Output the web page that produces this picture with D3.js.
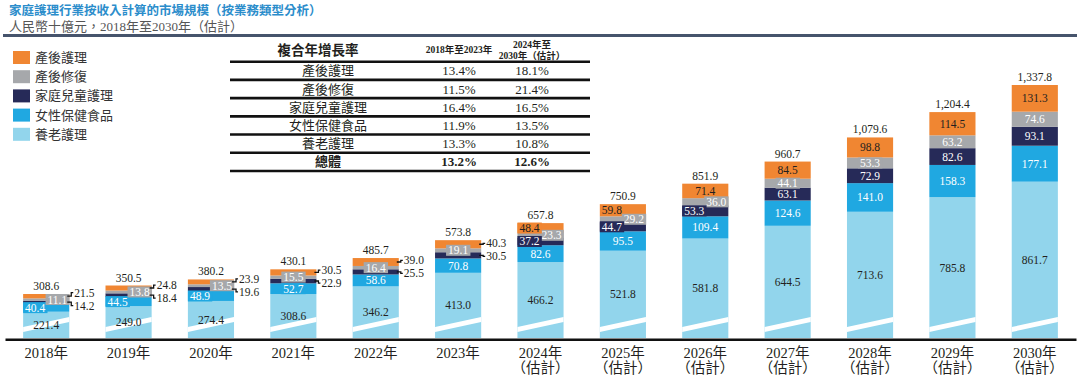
<!DOCTYPE html>
<html>
<head>
<meta charset="utf-8">
<script src="https://cdn.jsdelivr.net/npm/d3@7"></script>
<style>
  body { margin: 0; background: #fff; }
  svg { display: block; font-family: "Liberation Serif", "Noto Sans CJK TC", serif; }
</style>
</head>
<body>
<svg id="chart" width="1080" height="378"></svg>
<script>
// values (RMB bn)
const years = ['2018年', '2019年', '2020年', '2021年', '2022年', '2023年', '2024年',
  '2025年', '2026年', '2027年', '2028年', '2029年', '2030年'];
const estimated = [false, false, false, false, false, false, true, true, true, true, true, true, true];
const elderlyCare = [221.4, 249.0, 274.4, 308.6, 346.2, 413.0, 466.2, 521.8, 581.8, 644.5, 713.6, 785.8, 861.7];
const womenHealthFood = [40.4, 44.5, 48.9, 52.7, 58.6, 70.8, 82.6, 95.5, 109.4, 124.6, 141.0, 158.3, 177.1];
const childCare = [14.2, 18.4, 19.6, 22.9, 25.5, 30.5, 37.2, 44.7, 53.3, 63.1, 72.9, 82.6, 93.1];
const postpartumRepair = [11.1, 13.8, 13.5, 15.5, 16.4, 19.1, 23.3, 29.2, 36.0, 44.1, 53.3, 63.2, 74.6];
const postpartumCare = [21.5, 24.8, 23.9, 30.5, 39.0, 40.3, 48.4, 59.8, 71.4, 84.5, 98.8, 114.5, 131.3];
const totals = [308.6, 350.5, 380.2, 430.1, 485.7, 573.8, 657.8, 750.9, 851.9, 960.7, 1079.6, 1204.4, 1337.8];

const seriesKeys = ['elderly', 'women', 'child', 'repair', 'postnatal'];
const seriesNames = {
  elderly: '養老護理', women: '女性保健食品', child: '家庭兒童護理',
  repair: '產後修復', postnatal: '產後護理'
};
const colors = {
  postnatal: '#F08632', repair: '#A6A8AB', child: '#262A58',
  women: '#20A8E1', elderly: '#92D5EC'
};
const legendOrder = ['postnatal', 'repair', 'child', 'women', 'elderly'];

const cagrRows = ['產後護理', '產後修復', '家庭兒童護理', '女性保健食品', '養老護理', '總體'];
const cagrHistoric = ['13.4%', '11.5%', '16.4%', '11.9%', '13.3%', '13.2%'];
const cagrForecast = ['18.1%', '21.4%', '16.5%', '13.5%', '10.8%', '12.6%'];

const table = years.map((y, i) => ({
  year: y,
  elderly: elderlyCare[i],
  women: womenHealthFood[i],
  child: childCare[i],
  repair: postpartumRepair[i],
  postnatal: postpartumCare[i],
  total: totals[i]
}));

const textColor = '#231F20';
const baseY = 338;
const svg = d3.select('#chart');

// title
svg.append('text')
  .text('家庭護理行業按收入計算的市場規模（按業務類型分析）')
  .attr('x', 9).attr('y', 15)
  .attr('font-size', 12.5).attr('font-weight', 'bold')
  .attr('fill', '#2B8DCB');
svg.append('text')
  .text('人民幣十億元，2018年至2030年（估計）')
  .attr('x', 9).attr('y', 31)
  .attr('font-size', 13)
  .attr('fill', '#555');
svg.append('rect')
  .attr('x', 3).attr('y', 34).attr('width', 1074).attr('height', 3)
  .attr('fill', '#46546C');

// scales (broken axis: bottom of the chart is cut)
const x = d3.scaleBand()
  .domain(years)
  .range([5, 1076])
  .paddingInner(0.44)
  .paddingOuter(0.22);

const y = d3.scaleLinear()
  .domain([92, 1337.8])
  .range([baseY, 85]);

const stacked = d3.stack().keys(seriesKeys)(table);

const bars = svg.append('g');
stacked.forEach((layer) => {
  bars.append('g')
    .selectAll('rect')
    .data(layer)
    .enter()
    .append('rect')
    .attr('fill', colors[layer.key])
    .attr('x', (d) => x(d.data.year))
    .attr('width', x.bandwidth())
    .attr('y', (d) => y(d[1]))
    .attr('height', (d) => Math.max(0, Math.min(baseY, y(d[0])) - y(d[1])));
});

// axis break marks
bars.append('g')
  .selectAll('polygon')
  .data(table)
  .enter()
  .append('polygon')
  .attr('fill', '#fff')
  .attr('points', (d) => {
    const x0 = x(d.year);
    const x1 = x0 + x.bandwidth();
    return `${x0},${baseY - 11} ${x1},${baseY - 21} ${x1},${baseY - 16} ${x0},${baseY - 6}`;
  });

// x axis
const xAxis = d3.axisBottom(x).tickSize(0).tickSizeOuter(0);
const axisG = svg.append('g')
  .attr('transform', `translate(0, ${baseY + 1.3})`)
  .call(xAxis);
axisG.select('.domain').attr('stroke', '#111').attr('stroke-width', 2.6);
axisG.selectAll('.tick text').each(function (d, i) {
  const t = d3.select(this);
  t.text(null).attr('dy', null).attr('y', null)
    .attr('font-size', 14.5).attr('fill', textColor)
    .attr('font-family', '"Liberation Serif", "Noto Sans CJK TC", serif');
  t.append('tspan').attr('x', 0).attr('y', 19).text(d);
  if (estimated[i]) {
    t.append('tspan').attr('x', 0).attr('y', 34).text('（估計）');
  }
});

// segment labels
const labels = svg.append('g').attr('font-size', 11.5);
const fmt = d3.format('.1f');
const segH = (layer, i) => y(layer[i][0]) - y(layer[i][1]);
const segC = (layer, i) => (y(layer[i][0]) + y(layer[i][1])) / 2;

function boxedLabel(value, cx, cy, align, fill, txtFill, withBox) {
  const g = labels.append('g');
  const t = g.append('text')
    .text(fmt(value))
    .attr('y', cy)
    .attr('dy', '0.35em')
    .attr('fill', txtFill);
  if (align === 'start') t.attr('x', cx + 2).attr('text-anchor', 'start');
  else if (align === 'end') t.attr('x', cx - 2).attr('text-anchor', 'end');
  else t.attr('x', cx).attr('text-anchor', 'middle');
  if (withBox) {
    const bb = t.node().getBBox();
    g.insert('rect', 'text')
      .attr('x', bb.x - 2).attr('width', bb.width + 4)
      .attr('y', cy - 5.5).attr('height', 11)
      .attr('fill', fill);
  }
}

const layerOf = {};
stacked.forEach((l) => { layerOf[l.key] = l; });

table.forEach((d, i) => {
  const bx = x(d.year);
  const bw = x.bandwidth();
  const bc = bx + bw / 2;
  const right = bx + bw;

  // bottom segment, centred between its top and the baseline
  labels.append('text')
    .text(fmt(d.elderly))
    .attr('x', bc)
    .attr('y', (y(layerOf.elderly[i][1]) + baseY) / 2)
    .attr('dy', '0.35em')
    .attr('text-anchor', 'middle')
    .attr('fill', textColor);

  const hOrange = segH(layerOf.postnatal, i);
  const hNavy = segH(layerOf.child, i);
  const hBlue = segH(layerOf.women, i);
  const hGray = segH(layerOf.repair, i);

  const outside = hOrange < 9;
  const blueLeft = hBlue < 10.5;
  const navyLeft = !outside && hNavy < 12;
  const orangeLeft = !outside && hOrange < 13;
  const grayRight = blueLeft || navyLeft;

  // blue
  boxedLabel(d.women, blueLeft ? bx : bc, segC(layerOf.women, i),
    blueLeft ? 'start' : 'middle', colors.women, '#fff', hBlue < 11);

  // gray
  boxedLabel(d.repair, grayRight ? right : bc, segC(layerOf.repair, i),
    grayRight ? 'end' : 'middle', colors.repair, '#fff', hGray < 11);

  if (outside) {
    let oy = segC(layerOf.postnatal, i);
    let ny = segC(layerOf.child, i);
    const gap = 13 - (ny - oy);
    if (gap > 0) { oy -= gap / 2; ny += gap / 2; }
    [[d.postnatal, segC(layerOf.postnatal, i), oy], [d.child, segC(layerOf.child, i), ny]]
      .forEach(([v, sy, ly]) => {
        labels.append('path')
          .attr('d', `M${right - 2},${sy}H${right + 2}V${ly}H${right + 4}`)
          .attr('fill', 'none')
          .attr('stroke', '#111')
          .attr('stroke-width', 1.3);
        labels.append('text')
          .text(fmt(v))
          .attr('x', right + 5)
          .attr('y', ly)
          .attr('dy', '0.35em')
          .attr('fill', textColor);
      });
  } else {
    boxedLabel(d.child, navyLeft ? bx : bc, segC(layerOf.child, i),
      navyLeft ? 'start' : 'middle', colors.child, '#fff', hNavy < 11);
    boxedLabel(d.postnatal, orangeLeft ? bx : bc, segC(layerOf.postnatal, i),
      orangeLeft ? 'start' : 'middle', colors.postnatal, textColor, hOrange < 11);
  }

  // total on top
  labels.append('text')
    .text(d3.format(',.1f')(d.total))
    .attr('x', bc)
    .attr('y', y(d.total) - 8)
    .attr('dy', '0.35em')
    .attr('text-anchor', 'middle')
    .attr('fill', textColor);
});

// legend
const legend = svg.append('g')
  .selectAll('g')
  .data(legendOrder)
  .enter()
  .append('g')
  .attr('transform', (k, i) => `translate(13, ${57.5 + i * 19.2})`);
legend.append('rect')
  .attr('x', 0).attr('y', -6.5)
  .attr('width', 17).attr('height', 13)
  .attr('fill', (k) => colors[k]);
legend.append('text')
  .text((k) => seriesNames[k])
  .attr('x', 22).attr('y', 0).attr('dy', '0.35em')
  .attr('font-size', 13)
  .attr('fill', '#333');

// CAGR table
const tbl = svg.append('g').attr('fill', textColor);
const colLabel = 328;
const colA = 459;
const colB = 532;
tbl.append('text').text('複合年增長率')
  .attr('x', 318).attr('y', 50).attr('dy', '0.35em')
  .attr('text-anchor', 'middle').attr('font-size', 13.5).attr('font-weight', 'bold');
tbl.append('text').text('2018年至2023年')
  .attr('x', colA).attr('y', 50).attr('dy', '0.35em')
  .attr('text-anchor', 'middle').attr('font-size', 9.5).attr('font-weight', 'bold');
tbl.append('text').text('2024年至')
  .attr('x', colB).attr('y', 44.5).attr('dy', '0.35em')
  .attr('text-anchor', 'middle').attr('font-size', 9.5).attr('font-weight', 'bold');
tbl.append('text').text('2030年（估計）')
  .attr('x', colB).attr('y', 55.5).attr('dy', '0.35em')
  .attr('text-anchor', 'middle').attr('font-size', 9.5).attr('font-weight', 'bold');

const rowY = d3.scaleLinear().domain([0, 6]).range([61.7, 171]);
tbl.selectAll('line')
  .data(d3.range(7))
  .enter()
  .append('line')
  .attr('x1', 230).attr('x2', 590)
  .attr('y1', (r) => rowY(r)).attr('y2', (r) => rowY(r))
  .attr('stroke', '#111')
  .attr('stroke-width', 2.6);

cagrRows.forEach((name, r) => {
  const cy = (rowY(r) + rowY(r + 1)) / 2;
  const bold = r === cagrRows.length - 1 ? 'bold' : 'normal';
  [[name, colLabel], [cagrHistoric[r], colA], [cagrForecast[r], colB]].forEach(([txt, cx]) => {
    tbl.append('text').text(txt)
      .attr('x', cx).attr('y', cy).attr('dy', '0.35em')
      .attr('text-anchor', 'middle')
      .attr('font-size', 13)
      .attr('font-weight', bold);
  });
});
</script>
</body>
</html>
